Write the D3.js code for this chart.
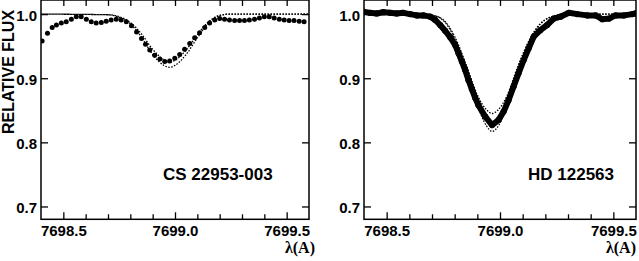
<!DOCTYPE html>
<html>
<head>
<meta charset="utf-8">
<script src="https://cdn.jsdelivr.net/npm/d3@7"></script>
<style>
	body { margin: 0; background: #fff; }
	text { font-family: "Liberation Sans", Arial, Helvetica, sans-serif; font-weight: bold; fill: #000; }
	.lam { font-family: "Liberation Serif", "Times New Roman", serif; }
</style>
</head>
<body>
<div id="chart"></div>
<script>

// tick values and labels
var waveMajor = [7698.5, 7699.0, 7699.5];
var waveMinor = [7698.6, 7698.7, 7698.8, 7698.9, 7699.1, 7699.2, 7699.3, 7699.4];
var fluxTicks = [0.7, 0.8, 0.9, 1.0];
var starNames = ["CS 22953-003", "HD 122563"];

// CS 22953-003 observed points
var csWave = [7698.405, 7698.429, 7698.450, 7698.469, 7698.491, 7698.513, 7698.536, 7698.558, 7698.580, 7698.603,
	7698.625, 7698.647, 7698.670, 7698.692, 7698.714, 7698.737, 7698.759, 7698.782, 7698.805, 7698.828,
	7698.850, 7698.868, 7698.887, 7698.909, 7698.932, 7698.954, 7698.976, 7698.999, 7699.021, 7699.043,
	7699.066, 7699.088, 7699.110, 7699.133, 7699.155, 7699.178, 7699.200, 7699.222, 7699.244, 7699.267,
	7699.289, 7699.311, 7699.333, 7699.356, 7699.378, 7699.400, 7699.422, 7699.444, 7699.467, 7699.489,
	7699.511, 7699.533, 7699.556, 7699.578];
var csFlux = [0.958, 0.970, 0.979, 0.983, 0.986, 0.988, 0.992, 0.996, 0.996, 0.992,
	0.988, 0.986, 0.987, 0.989, 0.991, 0.992, 0.991, 0.988, 0.982, 0.972,
	0.962, 0.953, 0.944, 0.936, 0.930, 0.926, 0.927, 0.931, 0.937, 0.945,
	0.954, 0.963, 0.971, 0.979, 0.986, 0.991, 0.993, 0.992, 0.991, 0.990,
	0.990, 0.990, 0.991, 0.992, 0.994, 0.996, 0.996, 0.994, 0.992, 0.991,
	0.990, 0.990, 0.989, 0.988];

// CS 22953-003 synthetic spectra
var csSynWave = [7698.40, 7698.70, 7698.75, 7698.80, 7698.85, 7698.90, 7698.95, 7698.975, 7699.00, 7699.05, 7699.10, 7699.15, 7699.20, 7699.25, 7699.60];
var csSynDeep = [1.000, 0.999, 0.995, 0.985, 0.964, 0.937, 0.920, 0.917, 0.920, 0.937, 0.963, 0.986, 0.998, 1.000, 1.000];
var csSynShallow = [1.000, 0.999, 0.996, 0.987, 0.969, 0.945, 0.929, 0.925, 0.928, 0.944, 0.968, 0.988, 0.998, 1.000, 1.000];

// HD 122563 observed points
var hdWave = [7698.396, 7698.426, 7698.456, 7698.485, 7698.515, 7698.544, 7698.573, 7698.603, 7698.633, 7698.662,
	7698.692, 7698.714, 7698.736, 7698.758, 7698.780, 7698.802, 7698.817, 7698.832, 7698.846, 7698.861,
	7698.876, 7698.891, 7698.905, 7698.935, 7698.965, 7698.994, 7699.016, 7699.038, 7699.060, 7699.082,
	7699.104, 7699.127, 7699.149, 7699.178, 7699.208, 7699.237, 7699.267, 7699.304, 7699.341, 7699.385,
	7699.422, 7699.451, 7699.481, 7699.510, 7699.547, 7699.584, 7699.598];
var hdFlux = [1.004, 1.002, 1.001, 1.003, 1.002, 1.001, 1.002, 1.000, 0.998, 0.998,
	0.996, 0.991, 0.983, 0.974, 0.964, 0.952, 0.939, 0.926, 0.913, 0.897,
	0.883, 0.869, 0.858, 0.840, 0.827, 0.835, 0.848, 0.866, 0.887, 0.908,
	0.928, 0.947, 0.965, 0.975, 0.983, 0.993, 0.996, 1.002, 1.000, 0.998,
	0.998, 0.992, 0.993, 0.998, 0.998, 1.000, 1.001];

// HD 122563 synthetic spectra
var hdSynWave = [7698.40, 7698.70, 7698.75, 7698.80, 7698.85, 7698.90, 7698.94, 7698.965, 7698.99, 7699.03, 7699.08, 7699.13, 7699.18, 7699.25, 7699.30, 7699.60];
var hdSynDeep = [1.000, 0.998, 0.990, 0.962, 0.915, 0.858, 0.826, 0.817, 0.824, 0.858, 0.915, 0.958, 0.985, 0.998, 1.000, 1.000];
var hdSynShallow = [1.000, 0.998, 0.991, 0.965, 0.922, 0.874, 0.851, 0.845, 0.850, 0.872, 0.920, 0.960, 0.986, 0.998, 1.000, 1.000];

var w = 639;
var h = 261;
var plotTop = 0;
var plotBottom = 219.3;

var svg = d3.select("#chart")
			.append("svg")
			.attr("width", w)
			.attr("height", h);

function pairs(xs, ys){
	return xs.map(function(d, i){ return [d, ys[i]]; });
}

function drawPanel(id, left, right, obsW, obsF, synW, synA, synB, name, nameX, lamX, thick){

	var xScale = d3.scaleLinear()
					.domain([7698.40, 7699.60])
					.range([left, right]);

	var yScale = d3.scaleLinear()
					.domain([0.68, 1.022])
					.range([plotBottom, plotTop]);

	var g = svg.append("g");

	// clip to the frame
	g.append("clipPath")
		.attr("id", "clip" + id)
		.append("rect")
		.attr("x", left)
		.attr("y", plotTop)
		.attr("width", right - left)
		.attr("height", plotBottom - plotTop);

	var plot = g.append("g").attr("clip-path", "url(#clip" + id + ")");

	// synthetic spectra - dotted, offset so they look solid where they coincide
	var synLine = d3.line()
					.x(function(d){ return xScale(d[0]); })
					.y(function(d){ return yScale(d[1]); })
					.curve(d3.curveMonotoneX);

	[synA, synB].forEach(function(s, k){
		plot.append("path")
			.datum(pairs(synW, s))
			.attr("d", synLine)
			.attr("fill", "none")
			.attr("stroke", "#000")
			.attr("stroke-width", 1.3)
			.attr("stroke-dasharray", "1.5,1.5")
			.attr("stroke-dashoffset", k * 1.5);
	});

	var obs = pairs(obsW, obsF);

	// thick observed line for the dense spectrum
	if (thick){
		plot.append("path")
			.datum(obs)
			.attr("d", d3.line()
				.x(function(d){ return xScale(d[0]); })
				.y(function(d){ return yScale(d[1]); }))
			.attr("fill", "none")
			.attr("stroke", "#000")
			.attr("stroke-width", 6)
			.attr("stroke-linejoin", "round");
	}

	plot.selectAll("circle")
		.data(obs)
		.enter()
		.append("circle")
		.attr("cx", function(d){ return xScale(d[0]); })
		.attr("cy", function(d){ return yScale(d[1]); })
		.attr("r", thick ? 3.1 : 2.5)
		.attr("fill", "#000");

	// ticks on all four sides, pointing inward
	g.append("g")
		.attr("transform", "translate(0," + plotBottom + ")")
		.call(d3.axisBottom(xScale).tickValues(waveMinor).tickSize(-5).tickFormat(""));
	g.append("g")
		.attr("transform", "translate(0," + plotBottom + ")")
		.call(d3.axisBottom(xScale).tickValues(waveMajor).tickSize(-7).tickPadding(6).tickFormat(d3.format(".1f")));
	g.append("g")
		.attr("transform", "translate(0," + plotTop + ")")
		.call(d3.axisTop(xScale).tickValues(waveMinor.concat(waveMajor)).tickSize(-6).tickFormat(""));
	var yAx = g.append("g")
		.attr("transform", "translate(" + left + ",0)")
		.call(d3.axisLeft(yScale).tickValues(fluxTicks).tickSize(-7).tickPadding(4).tickFormat(d3.format(".1f")));
	g.append("g")
		.attr("transform", "translate(" + right + ",0)")
		.call(d3.axisRight(yScale).tickValues(fluxTicks).tickSize(-7).tickFormat(""));

	g.selectAll(".domain").remove();
	g.selectAll(".tick line").attr("stroke", "#000").attr("stroke-width", 1.3);
	g.selectAll(".tick text")
		.attr("font-size", 15)
		.attr("font-family", null);
	yAx.selectAll(".tick text").attr("dy", "0.42em");

	// frame
	g.append("rect")
		.attr("x", left)
		.attr("y", plotTop)
		.attr("width", right - left)
		.attr("height", plotBottom - plotTop)
		.attr("fill", "none")
		.attr("stroke", "#000")
		.attr("stroke-width", 1.5);

	// star name
	g.append("text")
		.attr("x", nameX)
		.attr("y", 180)
		.attr("font-size", 17)
		.text(name);

	// x axis title
	g.append("text")
		.attr("class", "lam")
		.attr("x", lamX)
		.attr("y", 253)
		.attr("text-anchor", "end")
		.attr("font-size", 16)
		.text("λ(A)");
}

drawPanel(0, 41, 309, csWave, csFlux, csSynWave, csSynDeep, csSynShallow, starNames[0], 163, 315, false);
drawPanel(1, 364, 636, hdWave, hdFlux, hdSynWave, hdSynDeep, hdSynShallow, starNames[1], 528, 636, true);

// y axis title
svg.append("text")
	.attr("transform", "translate(14," + 72 + ") rotate(-90)")
	.attr("text-anchor", "middle")
	.attr("font-size", 16)
	.text("RELATIVE FLUX");

</script>
</body>
</html>
